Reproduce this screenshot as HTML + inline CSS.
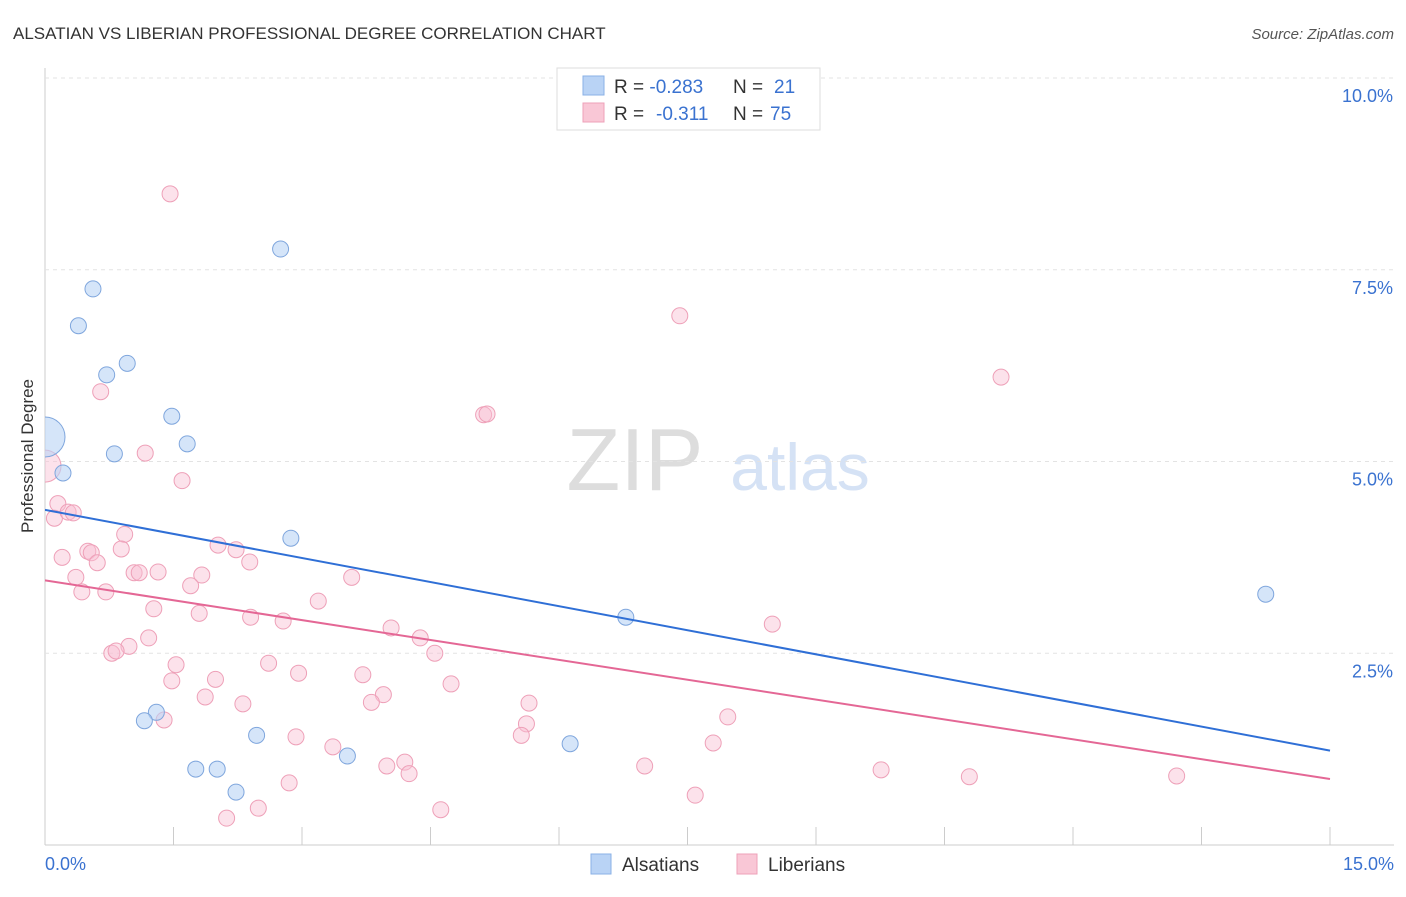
<!DOCTYPE html>
<html><head><meta charset="utf-8"><style>
body{margin:0;background:#fff;font-family:"Liberation Sans",sans-serif}
svg text{font-family:"Liberation Sans",sans-serif}
</style></head><body>
<svg id="chart" width="1406" height="892" xmlns="http://www.w3.org/2000/svg">
<defs><clipPath id="plotclip"><rect x="45" y="60" width="1360" height="785"/></clipPath></defs>
<text x="13" y="39" font-size="17" fill="#333">ALSATIAN VS LIBERIAN PROFESSIONAL DEGREE CORRELATION CHART</text>
<text x="1394" y="39" font-size="15" fill="#555" font-style="italic" text-anchor="end">Source: ZipAtlas.com</text>
<text x="33" y="456" font-size="17" fill="#333" text-anchor="middle" transform="rotate(-90 33 456)">Professional Degree</text>
<g><text x="635" y="490" font-size="88" fill="#ddd" font-family="Liberation Serif" text-anchor="middle">ZIP</text><text x="800" y="490" font-size="66" fill="#d5e2f5" text-anchor="middle">atlas</text></g>
<g id="grid"></g><g id="marks" clip-path="url(#plotclip)"></g>
<g>
<rect x="557" y="68" width="263" height="62" fill="#fff" stroke="#ddd"/>
<rect x="583" y="76" width="21" height="19" fill="#b9d3f5" stroke="#8ab0e6"/>
<rect x="583" y="103" width="21" height="19" fill="#f9c7d6" stroke="#eea0b8"/>
<text x="614" y="93" font-size="19" fill="#333">R = <tspan fill="#3a72d0">-0.283</tspan><tspan x="733">N =</tspan><tspan x="774" fill="#3a72d0">21</tspan></text>
<text x="614" y="120" font-size="19" fill="#333">R = <tspan x="656" fill="#3a72d0">-0.311</tspan><tspan x="733">N =</tspan><tspan x="770" fill="#3a72d0">75</tspan></text>
</g>
<g>
<rect x="591" y="854" width="20" height="20" fill="#b9d3f5" stroke="#8ab0e6"/><text x="622" y="871" font-size="19" fill="#333">Alsatians</text>
<rect x="737" y="854" width="20" height="20" fill="#f9c7d6" stroke="#eea0b8"/><text x="768" y="871" font-size="19" fill="#333">Liberians</text>
</g>
</svg>
<script>
const yTicks=[2.5,5,7.5,10];
const yTickLabels=["2.5%","5.0%","7.5%","10.0%"];
const xTicks=[0,1.5,3,4.5,6,7.5,9,10.5,12,13.5,15];
const alsX=[0,0.21,0.56,0.39,0.72,0.96,1.48,1.66,0.81,2.75,2.87,1.30,1.16,2.47,1.76,2.01,2.23,3.53,6.13,6.78,14.25];
const alsY=[5.32,4.85,7.25,6.77,6.13,6.28,5.59,5.23,5.10,7.77,4.0,1.73,1.62,1.43,0.99,0.99,0.69,1.16,1.32,2.97,3.27];
const libX=[1.46,7.41,11.16,5.12,5.16,0.65,1.17,1.60,0,0.15,0.11,0.27,0.33,0.93,0.2,0.5,0.54,0.61,0.89,2.02,2.23,2.39,0.36,0.43,0.71,1.04,1.10,1.32,1.83,1.70,3.58,3.19,1.27,1.80,2.40,2.78,4.04,4.38,8.49,1.21,0.98,0.78,0.83,4.55,1.53,2.61,2.96,1.48,1.99,3.71,4.74,1.87,3.95,3.81,2.31,5.65,1.39,5.62,7.97,5.56,2.93,3.36,7.80,4.20,3.99,4.25,7.00,9.76,10.79,13.21,2.85,7.59,2.49,4.62,2.12];
const libY=[8.49,6.90,6.10,5.61,5.62,5.91,5.11,4.75,4.94,4.45,4.26,4.34,4.33,4.05,3.75,3.83,3.81,3.68,3.86,3.91,3.85,3.69,3.49,3.30,3.30,3.55,3.55,3.56,3.52,3.38,3.49,3.18,3.08,3.02,2.97,2.92,2.83,2.70,2.88,2.70,2.59,2.50,2.53,2.50,2.35,2.37,2.24,2.14,2.16,2.22,2.10,1.93,1.96,1.86,1.84,1.85,1.63,1.58,1.67,1.43,1.41,1.28,1.33,1.08,1.03,0.93,1.03,0.98,0.89,0.90,0.81,0.65,0.48,0.46,0.35];
const alsTrend=[4.37,1.23];
const libTrend=[3.45,0.86];
const NS="http://www.w3.org/2000/svg";
const X=v=>45+v/15*1285, Y=v=>845-v*76.7;
function mk(t,a,p){const e=document.createElementNS(NS,t);for(const k in a)e.setAttribute(k,a[k]);p.appendChild(e);return e;}
const g=document.getElementById('grid'),m=document.getElementById('marks');
let ax=mk('line',{x1:45,y1:68,x2:45,y2:845,stroke:'#ccc'},g);


let bx=mk('line',{x1:45,y1:845,x2:1394,y2:845,stroke:'#ccc'},g);


yTicks.forEach((v,i)=>{
 const l=mk('line',{x1:45,x2:1394,y1:Y(v),y2:Y(v),stroke:'#e3e3e3','stroke-dasharray':'4 4'},g);
 
 
 const t=mk('text',{x:1393,y:Y(v)+24,'font-size':18,fill:'#3a72d0','text-anchor':'end'},g);t.textContent=yTickLabels[i];
 
 
});
xTicks.forEach(v=>{const l=mk('line',{x1:X(v),x2:X(v),y1:827,y2:845,stroke:'#ccc'},g);
 
 });
[[0,'0.0%','start',45],[15,'15.0%','end',1394]].forEach(d=>{const t=mk('text',{x:d[3],y:870,'font-size':18,fill:'#3a72d0','text-anchor':d[2]},g);t.textContent=d[1];
 
 });
libX.forEach((x,i)=>{const c=mk('circle',{cx:X(x),cy:Y(libY[i]),r:(x===0?16:8),fill:'rgba(249,190,210,0.45)',stroke:'#eea0b8','stroke-width':1},m);
 
 });
alsX.forEach((x,i)=>{const c=mk('circle',{cx:X(x),cy:Y(alsY[i]),r:(x===0?20:8),fill:'rgba(185,211,245,0.6)',stroke:'#7fa6dd','stroke-width':1},m);
 
 });
const t1=mk('line',{x1:X(0),y1:Y(alsTrend[0]),x2:X(15),y2:Y(alsTrend[1]),stroke:'#2f6fd6','stroke-width':2},m);


const t2=mk('line',{x1:X(0),y1:Y(libTrend[0]),x2:X(15),y2:Y(libTrend[1]),stroke:'#e46795','stroke-width':2},m);


</script>
</body></html>
